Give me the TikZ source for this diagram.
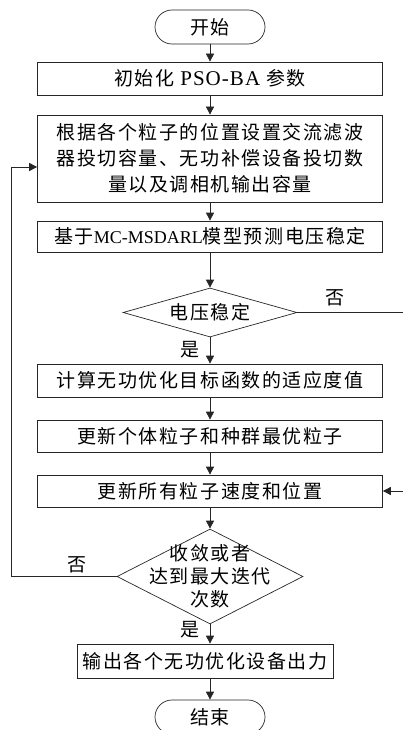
\documentclass[tikz,border=0pt]{standalone}
\usepackage{fontspec}
\setmainfont{Liberation Serif}
\newfontfamily\cjk[LetterSpace=8]{Noto Sans CJK SC}
\newfontfamily\latin{Liberation Serif}
\newfontfamily\latinwide[LetterSpace=5]{Liberation Serif}
\usetikzlibrary{shapes.geometric,shapes.misc,arrows.meta}
\tikzset{
	chartfont/.style={font=\cjk\fontsize{19}{26}\selectfont},
	procbox/.style={draw=black!85, line width=0.7pt, rectangle, minimum width=345pt, inner sep=0pt, align=center, chartfont},
	termbox/.style={draw=black!85, line width=0.7pt, rounded rectangle, minimum width=110pt, minimum height=34pt, inner sep=0pt, chartfont},
	decbox/.style={draw=black!85, line width=0.7pt, diamond, aspect=3.5, inner sep=0pt, chartfont},
	dectext/.style={align=center, font=\cjk\fontsize{19}{23}\selectfont},
	flowline/.style={draw=black!85, line width=0.7pt},
	flowarrow/.style={flowline, -{Triangle[length=8pt,width=8pt]}},
	yesno/.style={chartfont, inner sep=0pt}
}

\begin{document}
\begin{tikzpicture}[x=1pt,y=1pt]
			%%%%% START %%%%%
			\useasboundingbox (0,0) rectangle (403,-730);
			
			\node[termbox] (start) at (210,-27) {开始};
			\node[procbox, minimum height=33pt] (init) at (210,-78.5) {初始化 {\latinwide\fontsize{21}{26}\selectfont PSO-BA} 参数};
			\node[procbox, minimum height=87pt] (pos) at (210,-158.5) {根据各个粒子的位置设置交流滤波\\器投切容量、无功补偿设备投切数\\量以及调相机输出容量};
			\node[procbox, minimum height=31pt] (pred) at (210,-236.5) {基于{\latin\fontsize{18}{26}\selectfont MC-MSDARL}模型预测电压稳定};
			\node[decbox, minimum width=174pt, minimum height=49pt] (stab) at (210,-312.5) {电压稳定};
			
			\node[procbox, minimum height=33pt] (fit) at (210,-380.5) {计算无功优化目标函数的适应度值};
			\node[procbox, minimum height=32pt] (best) at (210,-436) {更新个体粒子和种群最优粒子};
			\node[procbox, minimum height=32pt] (move) at (210,-491) {更新所有粒子速度和位置};
			\node[decbox, minimum width=186pt, minimum height=95pt,
				label={[dectext]center:{收敛或者\\达到最大迭代\\次数}}] (conv) at (210,-576.5) {};
			
			\node[procbox, minimum width=256pt, minimum height=34pt] (out) at (205,-661) {输出各个无功优化设备出力};
			\node[termbox] (stop) at (210,-717) {结束};
			
			% yes / no
			\node[yesno] (yes1) at (190,-350) {是};
			\node[yesno] (no1) at (335,-298) {否};
			\node[yesno] (no2) at (77,-565) {否};
			\node[yesno] (yes2) at (190,-630) {是};
			
			\coordinate (stabR) at (403,-312.5);
			\coordinate (moveR) at (403,-491);
			\coordinate (loopT) at (11,-167);
			
			\draw[flowarrow] (start.south) -- (init.north);
			\draw[flowarrow] (init.south) -- (pos.north);
			\draw[flowarrow] (pos.south) -- (pred.north);
			\draw[flowarrow] (pred.south) -- (stab.north);
			\draw[flowarrow] (stab.south) -- (fit.north);
			\draw[flowarrow] (fit.south) -- (best.north);
			\draw[flowarrow] (best.south) -- (move.north);
			\draw[flowarrow] (move.south) -- (conv.north);
			\draw[flowarrow] (conv.south) -- (conv.south |- out.north);
			\draw[flowarrow] (out.south -| stop.north) -- (stop.north);
			
			\draw[flowline] (stab.east) -- (stabR);
			\draw[flowarrow] (moveR) -- (move.east);
			\draw[flowarrow] (conv.west) -| (loopT) -- (loopT -| pos.west);
			
			%%%%% END %%%%%
		\end{tikzpicture}
\end{document}
